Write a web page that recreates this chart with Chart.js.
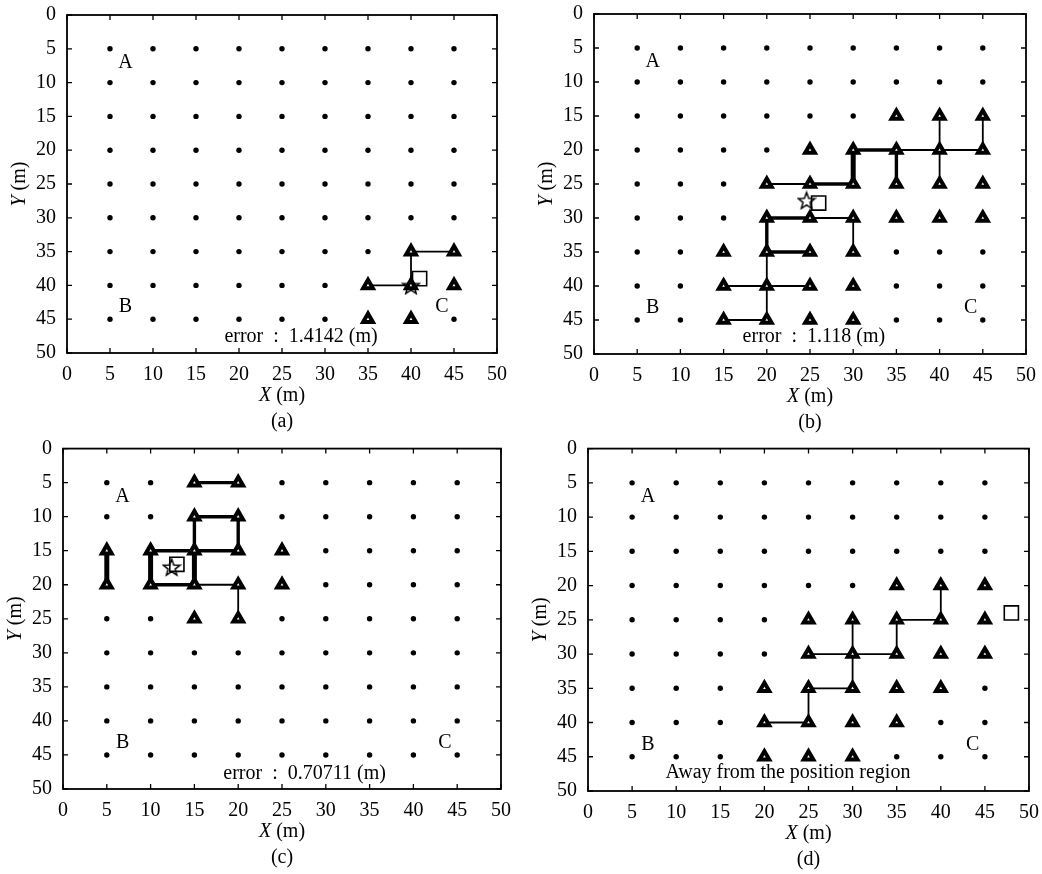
<!DOCTYPE html>
<html>
<head>
<meta charset="utf-8">
<script src="https://cdn.jsdelivr.net/npm/chart.js@4.4.0/dist/chart.umd.min.js"></script>
<style>
body { margin: 0; background: #fff; width: 1042px; height: 874px; position: relative; overflow: hidden; }
canvas { position: absolute; }
</style>
</head>
<body>
<canvas id="pa" width="521" height="437" style="left:0;top:0"></canvas>
<canvas id="pb" width="521" height="437" style="left:521px;top:0"></canvas>
<canvas id="pc" width="521" height="437" style="left:0;top:437px"></canvas>
<canvas id="pd" width="521" height="437" style="left:521px;top:437px"></canvas>
<script>
// grid of reference nodes (m)
const gridX = [5, 10, 15, 20, 25, 30, 35, 40, 45];
const gridY = [5, 10, 15, 20, 25, 30, 35, 40, 45];
const tickVals = [0, 5, 10, 15, 20, 25, 30, 35, 40, 45, 50];
const cornerNames = ["A", "B", "C"];
const cornerX = [6.8, 6.8, 43.6];
const cornerY = [7, 43.2, 43.2];

// (a)
const triA = [[40,35],[45,35],[35,40],[40,40],[45,40],[35,45],[40,45]];
const thinA = [[35,40,40,40],[40,40,40,35],[40,35,45,35]];
const thickA = [];
const heavyA = [];
const starA = [[40,40]];
const squareA = [[41,39]];

// (b)
const triB = [[35,15],[40,15],[45,15],
  [25,20],[30,20],[35,20],[40,20],[45,20],
  [20,25],[25,25],[30,25],[35,25],[40,25],[45,25],
  [20,30],[25,30],[30,30],[35,30],[40,30],[45,30],
  [15,35],[20,35],[25,35],[30,35],
  [15,40],[20,40],[25,40],[30,40],
  [15,45],[20,45],[25,45],[30,45]];
const thinB = [[20,25,25,25],[35,20,45,20],[40,15,40,25],[45,15,45,20],[25,30,30,30],
  [30,30,30,35],[20,35,20,45],[15,40,25,40],[15,45,20,45]];
const thickB = [[30,20,35,20],[35,20,35,25],[20,30,20,35],[20,35,25,35],[25,25,30,25],[20,30,25,30]];
const heavyB = [[30,20,30,25]];
const starB = [[24.6,27.4]];
const squareB = [[26,27.8]];

// (c)
const triC = [[15,5],[20,5],[15,10],[20,10],
  [5,15],[10,15],[15,15],[20,15],[25,15],
  [5,20],[10,20],[15,20],[20,20],[25,20],
  [15,25],[20,25]];
const thinC = [[15,20,20,20],[20,20,20,25]];
const thickC = [[15,5,20,5],[15,10,20,10],[15,10,15,15],[20,10,20,15],[10,15,20,15],[10,20,15,20]];
const heavyC = [[5,15,5,20],[10,15,10,20],[15,15,15,20]];
const starC = [[12.4,17.4]];
const squareC = [[13,17]];

// (d)
const triD = [[35,20],[40,20],[45,20],
  [25,25],[30,25],[35,25],[40,25],[45,25],
  [25,30],[30,30],[35,30],[40,30],[45,30],
  [20,35],[25,35],[30,35],[35,35],[40,35],
  [20,40],[25,40],[30,40],[35,40],
  [20,45],[25,45],[30,45]];
const thinD = [[20,40,25,40],[25,40,25,35],[25,35,30,35],[30,35,30,25],[25,30,35,30],
  [35,30,35,25],[35,25,40,25],[40,25,40,20]];
const thickD = [];
const heavyD = [];
const starD = [];
const squareD = [[48,24]];

const SERIF = '"Liberation Serif", "Times New Roman", serif';

function makeStar(size) {
  const c = document.createElement("canvas");
  c.width = size; c.height = size;
  const g = c.getContext("2d");
  const cx = size / 2, cy = size / 2 + 0.9, R = size / 2 - 1.2, r = R * 0.42;
  g.beginPath();
  for (let i = 0; i < 10; i++) {
    const ang = -Math.PI / 2 + i * Math.PI / 5;
    const rr = i % 2 ? r : R;
    g.lineTo(cx + rr * Math.cos(ang), cy + rr * Math.sin(ang));
  }
  g.closePath();
  g.lineWidth = 1.5;
  g.strokeStyle = "#000";
  g.stroke();
  return c;
}
const starImg = makeStar(20);

function pts(list) {
  return list.map(p => ({x: p[0], y: p[1]}));
}

function segSets(list, w) {
  return list.map(s => ({
    data: [{x: s[0], y: s[1]}, {x: s[2], y: s[3]}],
    showLine: true, borderColor: "#000", borderWidth: w,
    pointRadius: 0, order: 5
  }));
}

function drawMixed(ctx, it, rest, cx, cy) {
  ctx.font = "italic 20px " + SERIF;
  const w1 = ctx.measureText(it).width;
  ctx.font = "20px " + SERIF;
  const w2 = ctx.measureText(rest).width;
  const x0 = cx - (w1 + w2) / 2;
  ctx.textAlign = "left";
  ctx.textBaseline = "middle";
  ctx.font = "italic 20px " + SERIF;
  ctx.fillText(it, x0, cy);
  ctx.font = "20px " + SERIF;
  ctx.fillText(rest, x0 + w1, cy);
}

const matlabFrame = {
  id: "matlabFrame",
  afterDraw(chart, args, opts) {
    const ctx = chart.ctx, a = chart.chartArea;
    const xs = chart.scales.x, ys = chart.scales.y;
    ctx.save();
    ctx.strokeStyle = "#000";
    ctx.lineWidth = 1.8;
    ctx.strokeRect(a.left, a.top, a.right - a.left, a.bottom - a.top);
    ctx.lineWidth = 1.3;
    ctx.beginPath();
    tickVals.forEach(v => {
      const px = xs.getPixelForValue(v), py = ys.getPixelForValue(v);
      ctx.moveTo(px, a.top); ctx.lineTo(px, a.top + 5);
      ctx.moveTo(px, a.bottom); ctx.lineTo(px, a.bottom - 5);
      ctx.moveTo(a.left, py); ctx.lineTo(a.left + 5, py);
      ctx.moveTo(a.right, py); ctx.lineTo(a.right - 5, py);
    });
    ctx.stroke();

    ctx.fillStyle = "#000";
    ctx.font = "20px " + SERIF;
    ctx.textAlign = "center";
    ctx.textBaseline = "middle";
    cornerNames.forEach((t, i) => {
      ctx.fillText(t, xs.getPixelForValue(cornerX[i]), ys.getPixelForValue(cornerY[i]));
    });
    ctx.textAlign = "left";
    ctx.fillText(opts.note, xs.getPixelForValue(opts.noteAt[0]), ys.getPixelForValue(opts.noteAt[1]));

    const cx = (a.left + a.right) / 2;
    drawMixed(ctx, "X", " (m)", cx, a.bottom + 43);
    ctx.save();
    ctx.translate(a.left - 47, (a.top + a.bottom) / 2);
    ctx.rotate(-Math.PI / 2);
    drawMixed(ctx, "Y", " (m)", 0, 0);
    ctx.restore();
    ctx.font = "20px " + SERIF;
    ctx.textAlign = "center";
    ctx.fillText(opts.caption, cx, a.bottom + 69);
    ctx.restore();
  }
};

function makePanel(id, p) {
  const nodes = [];
  gridY.forEach(y => gridX.forEach(x => nodes.push({x: x, y: y})));
  const datasets = [
    {data: nodes, pointStyle: "circle", pointRadius: 2.7, backgroundColor: "#000", borderWidth: 0, order: 6},
    ...segSets(p.thin, 1.8),
    ...segSets(p.thick, 3.4),
    ...segSets(p.heavy, 5),
    {data: pts(p.tri), pointStyle: "triangle", pointRadius: 5.6, backgroundColor: "#fff",
      borderColor: "#000", borderWidth: 4, order: 4},
    {data: pts(p.star), pointStyle: starImg, order: 3},
    {data: pts(p.square), pointStyle: "rect", pointRadius: 10, backgroundColor: "rgba(0,0,0,0)",
      borderColor: "#000", borderWidth: 1.6, order: 2}
  ];
  const fixW = p.left, fixH = p.bottomH;
  new Chart(document.getElementById(id), {
    type: "scatter",
    data: {datasets: datasets},
    plugins: [matlabFrame],
    options: {
      responsive: false,
      animation: false,
      events: [],
      layout: {padding: {left: 0, top: p.top, right: p.right, bottom: 0}},
      scales: {
        x: {
          type: "linear", min: 0, max: 50,
          grid: {display: false}, border: {display: false},
          ticks: {stepSize: 5, autoSkip: false, maxRotation: 0, padding: 2, color: "#000",
            font: {family: SERIF, size: 20}},
          afterFit: s => { s.height = fixH; s.paddingLeft = 0; s.paddingRight = 0; }
        },
        y: {
          type: "linear", min: 0, max: 50, reverse: true,
          grid: {display: false}, border: {display: false},
          ticks: {stepSize: 5, autoSkip: false, padding: 3, color: "#000",
            font: {family: SERIF, size: 20}},
          afterFit: s => { s.width = fixW; s.paddingTop = 0; s.paddingBottom = 0; }
        }
      },
      plugins: {
        legend: {display: false},
        tooltip: {enabled: false},
        matlabFrame: {caption: p.caption, note: p.note, noteAt: p.noteAt}
      }
    }
  });
}

makePanel("pa", {tri: triA, thin: thinA, thick: thickA, heavy: heavyA, star: starA, square: squareA,
  caption: "(a)", note: "error  :  1.4142 (m)", noteAt: [18.3, 47.6],
  left: 67, top: 15, right: 24, bottomH: 84});
makePanel("pb", {tri: triB, thin: thinB, thick: thickB, heavy: heavyB, star: starB, square: squareB,
  caption: "(b)", note: "error  :  1.118 (m)", noteAt: [17.2, 47.5],
  left: 73, top: 14, right: 16, bottomH: 83});
makePanel("pc", {tri: triC, thin: thinC, thick: thickC, heavy: heavyC, star: starC, square: squareC,
  caption: "(c)", note: "error  :  0.70711 (m)", noteAt: [18.3, 47.7],
  left: 63, top: 9, right: 20, bottomH: 85});
makePanel("pd", {tri: triD, thin: thinD, thick: thickD, heavy: heavyD, star: starD, square: squareD,
  caption: "(d)", note: "Away from the position region", noteAt: [8.8, 47.4],
  left: 67, top: 9, right: 13, bottomH: 83});
</script>
</body>
</html>
